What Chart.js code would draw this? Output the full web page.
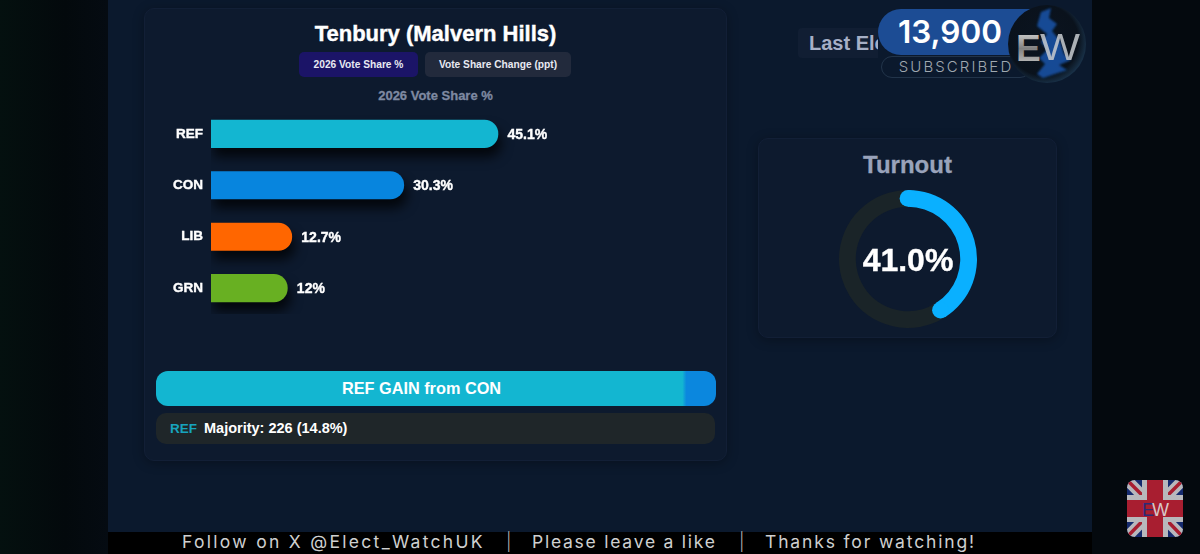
<!DOCTYPE html>
<html>
<head>
<meta charset="utf-8">
<title>Tenbury (Malvern Hills)</title>
<script src="https://cdn.jsdelivr.net/npm/chart.js@4"></script>
<style>
  html, body { margin: 0; padding: 0; }
  body { width: 1200px; height: 554px; overflow: hidden; position: relative; background: #04090e; font-family: "Liberation Sans", Arial, sans-serif; font-weight: bold; color: #fff; }
  .abs { position: absolute; }
  #leftSide { left: 0; top: 0; width: 108px; height: 554px; background: linear-gradient(90deg, #04100f, #03090c 60%, #050b12); }
  #stage { left: 108px; top: 0; width: 984px; height: 532px; background: #0b192d; }
  #footer { left: 108px; top: 532px; width: 984px; height: 22px; background: #000; }
  .foot { top: 531px; font: 400 17.5px Inter, sans-serif; color: #cfd0d0; white-space: nowrap; }
  .sep { font-weight: 300; color: #b0b0b0; }
  .card { background: #0d1a2e; border: 1px solid #121f36; border-radius: 10px; box-shadow: 0 2px 12px rgba(0,0,0,.3); box-sizing: border-box; }
  #mainCard { left: 144px; top: 8px; width: 583px; height: 453px; }
  #turnoutCard { left: 758px; top: 138px; width: 299px; height: 200px; }
  #title { left: 144px; width: 583px; top: 21px; text-align: center; font-size: 22px; line-height: 25px; -webkit-text-stroke: 0.4px #fff; }
  .tab { top: 52px; height: 25px; line-height: 25px; font-size: 10.2px; text-align: center; border-radius: 5px; color: #e8e9f2; }
  #tabA { left: 299px; width: 119px; background: #1b1467; }
  #tabB { left: 425px; width: 146px; background: #222a3c; }
  #subtitle { left: 144px; width: 583px; top: 88px; text-align: center; font-size: 13px; line-height: 15px; color: #7e89a1; -webkit-text-stroke: 0.3px #7e89a1; }
  #barWrap { left: 156px; top: 92px; width: 564px; height: 238px; }
  #gain { left: 156px; top: 371px; width: 560px; height: 35px; line-height: 35px; border-radius: 12px; font-size: 16.3px; background: linear-gradient(90deg, #13b6d1 94%, #0b87de 94.7%); }
  #gain span { display: block; width: 531px; text-align: center; }
  #majority { left: 156px; top: 413px; width: 559px; height: 31px; line-height: 31px; border-radius: 10px; background: #1f2629; }
  #majority .ref { position: absolute; left: 14px; color: #17a3be; font-size: 13.5px; }
  #majority .txt { position: absolute; left: 48px; font-size: 14.5px; }
  #lastEl { left: 798px; top: 28px; width: 80px; height: 30px; line-height: 30px; background: #111e33; border-radius: 4px 0 0 4px; font-size: 20px; color: #a6afc6; box-sizing: border-box; padding-left: 11px; white-space: nowrap; overflow: hidden; }
  #subPill { left: 878px; top: 9px; width: 165px; height: 46px; background: #1c4c94; border-radius: 23px 0 0 23px; }
  #subCount { left: 878px; top: 12px; width: 144px; text-align: center; font: 600 31.5px/40px Inter, sans-serif; color: #fff; }
  #subBox { left: 881px; top: 56px; width: 150px; height: 22px; border: 1px solid #22344a; border-radius: 11px; box-sizing: border-box; }
  #subText { left: 881px; top: 58px; width: 150px; text-align: center; font: 300 15px/18px Inter, sans-serif; letter-spacing: 2.1px; color: #a0a8b0; }
  #logo { left: 1007px; top: 4px; }
  #turnoutTitle { left: 758px; width: 299px; top: 152px; text-align: center; font-size: 24px; line-height: 26px; color: #99a3bb; -webkit-text-stroke: 0.3px #99a3bb; }
  #ringWrap { left: 838px; top: 189px; width: 140px; height: 140px; }
  #ringLabel { left: 838px; width: 140px; top: 244px; text-align: center; font-size: 32px; line-height: 33px; -webkit-text-stroke: 0.4px #fff; }
  #flag { left: 1127px; top: 480px; }
</style>
</head>
<body>
<div class="abs" id="leftSide"></div>
<div class="abs" id="stage"></div>
<div class="abs" id="footer"></div>
<div class="abs foot" style="left:182px;letter-spacing:2.3px">Follow on X @Elect_WatchUK</div>
<div class="abs foot sep" style="left:506px">|</div>
<div class="abs foot" style="left:532px;letter-spacing:1.75px">Please leave a like</div>
<div class="abs foot sep" style="left:739px">|</div>
<div class="abs foot" style="left:765px;letter-spacing:1.85px">Thanks for watching!</div>

<div class="abs card" id="mainCard"></div>
<div class="abs" id="title">Tenbury (Malvern Hills)</div>
<div class="abs tab" id="tabA">2026 Vote Share %</div>
<div class="abs tab" id="tabB">Vote Share Change (ppt)</div>
<div class="abs" id="subtitle">2026 Vote Share %</div>
<div class="abs" id="barWrap"><canvas id="barChart"></canvas></div>
<div class="abs" id="gain"><span>REF GAIN from CON</span></div>
<div class="abs" id="majority"><span class="ref">REF</span><span class="txt">Majority: 226 (14.8%)</span></div>

<div class="abs card" id="turnoutCard"></div>
<div class="abs" id="turnoutTitle">Turnout</div>
<div class="abs" id="ringWrap"><canvas id="ringChart"></canvas></div>
<div class="abs" id="ringLabel">41.0%</div>

<div class="abs" id="lastEl">Last Election</div>
<div class="abs" id="subPill"></div>
<div class="abs" id="subCount">13,900</div>
<div class="abs" id="subBox"></div>
<div class="abs" id="subText">SUBSCRIBED</div>
<svg class="abs" id="logo" width="80" height="80" viewBox="0 0 80 80">
  <defs>
    <radialGradient id="orb" cx="45%" cy="45%" r="60%"><stop offset="0" stop-color="#0b1420"/><stop offset=".75" stop-color="#0a121c"/><stop offset="1" stop-color="#1d3a55"/></radialGradient>
    <linearGradient id="silver" x1="0" y1="0" x2="0" y2="1"><stop offset="0" stop-color="#e4e4e4"/><stop offset=".5" stop-color="#808080"/><stop offset="1" stop-color="#d0d0d0"/></linearGradient>
    <filter id="glow"><feGaussianBlur stdDeviation="0.8"/></filter>
  </defs>
  <circle cx="40" cy="40" r="39" fill="url(#orb)"/>
  <path d="M34 8 L44 4 L42 14 L50 20 L45 27 L53 37 L57 50 L64 56 L52 61 L60 66 L36 74 L30 70 L38 60 L32 54 L40 46 L34 38 L40 30 L30 22 Z" fill="#1a62c8" opacity=".7" filter="url(#glow)"/>
  <text x="9" y="57" font-family="Liberation Sans" font-weight="bold" font-size="37" fill="url(#silver)">E</text>
  <text x="33" y="56" font-family="Liberation Sans" font-weight="normal" font-size="36" fill="#c8ccd0" textLength="40" lengthAdjust="spacingAndGlyphs" style="opacity:.85">W</text>
</svg>
<svg class="abs" id="flag" width="56" height="57" viewBox="0 0 56 57">
  <defs><clipPath id="r"><rect width="56" height="57" rx="8"/></clipPath></defs>
  <g clip-path="url(#r)">
    <rect width="56" height="57" fill="#152a6e"/>
    <path d="M0 0 L56 57 M56 0 L0 57" stroke="#b8b8bc" stroke-width="11"/>
    <path d="M0 0 L28 28 M56 57 L28 28 M56 0 L28 28 M0 57 L28 28" stroke="#a81e30" stroke-width="3.5"/>
    <rect x="15" width="26" height="57" fill="#b8b8bc"/>
    <rect y="15" width="56" height="27" fill="#b8b8bc"/>
    <rect x="20" width="16" height="57" fill="#a81e30"/>
    <rect y="20" width="56" height="17" fill="#a81e30"/>
    <text x="15" y="36" font-family="Liberation Sans" font-weight="normal" font-size="18" fill="#2a2a78">E</text>
    <text x="25" y="36" font-family="Liberation Sans" font-weight="normal" font-size="18" fill="#d8c8c8">W</text>
  </g>
</svg>

<script>
const parties = ['REF', 'CON', 'LIB', 'GRN'];
const voteShare = [45.1, 30.3, 12.7, 12];
const partyColours = ['#13b6d1', '#0785de', '#ff6600', '#68b022'];
const shareLabels = ['45.1%', '30.3%', '12.7%', '12%'];

const turnoutParts = [41, 59];
const turnoutColours = ['#0ab0ff', '#1a2428'];

// soft drop shadow under the bars
const barShadow = {
  id: 'barShadow',
  beforeDatasetsDraw(chart) {
    const c = chart.ctx;
    c.save();
    c.shadowColor = 'rgba(0,0,0,0.75)';
    c.shadowBlur = 12;
    c.shadowOffsetX = 3;
    c.shadowOffsetY = 9;
  },
  afterDatasetsDraw(chart) {
    chart.ctx.restore();
  }
};

// value text at the end of each bar
const barValues = {
  id: 'barValues',
  afterDatasetsDraw(chart) {
    const c = chart.ctx;
    c.save();
    c.font = 'bold 14px "Liberation Sans"';
    c.fillStyle = '#fff';
    c.strokeStyle = '#fff';
    c.lineWidth = 0.4;
    c.textBaseline = 'middle';
    chart.getDatasetMeta(0).data.forEach((bar, i) => {
      c.fillText(shareLabels[i], bar.x + 9.5, bar.y + 1);
      c.strokeText(shareLabels[i], bar.x + 9.5, bar.y + 1);
    });
    c.restore();
  }
};

new Chart(document.getElementById('barChart'), {
  type: 'bar',
  data: {
    labels: parties,
    datasets: [{
      data: voteShare,
      backgroundColor: partyColours,
      barThickness: 27.5,
      borderRadius: { topRight: 14, bottomRight: 14 },
      borderSkipped: false
    }]
  },
  options: {
    indexAxis: 'y',
    responsive: true,
    maintainAspectRatio: false,
    animation: false,
    layout: { padding: 0 },
    plugins: { legend: { display: false }, tooltip: { enabled: false } },
    scales: {
      x: { display: false, min: 0, max: 80 },
      y: {
        afterFit: (axis) => { axis.width = 55; },
        border: { display: false },
        grid: { display: false, drawTicks: false },
        ticks: {
          color: '#fff',
          padding: 8,
          textStrokeColor: '#fff',
          textStrokeWidth: 0.4,
          font: { family: 'Liberation Sans', weight: 'bold', size: 13.5 }
        }
      }
    }
  },
  plugins: [barShadow, barValues]
});

// round caps on the value arc, they sit past the ends like in the gauge
const ringCaps = {
  id: 'ringCaps',
  afterDatasetsDraw(chart) {
    const arc = chart.getDatasetMeta(0).data[0];
    const r = (arc.innerRadius + arc.outerRadius) / 2;
    const w = (arc.outerRadius - arc.innerRadius) / 2;
    const c = chart.ctx;
    c.save();
    c.fillStyle = turnoutColours[0];
    [arc.startAngle, arc.endAngle].forEach(a => {
      c.beginPath();
      c.arc(arc.x + Math.cos(a) * r, arc.y + Math.sin(a) * r, w, 0, Math.PI * 2);
      c.fill();
    });
    c.restore();
  }
};

new Chart(document.getElementById('ringChart'), {
  type: 'doughnut',
  data: {
    datasets: [{ data: turnoutParts, backgroundColor: turnoutColours, borderWidth: 0 }]
  },
  options: {
    responsive: true,
    maintainAspectRatio: false,
    animation: false,
    radius: 69,
    cutout: 53,
    plugins: { legend: { display: false }, tooltip: { enabled: false } }
  },
  plugins: [ringCaps]
});
</script>
</body>
</html>
